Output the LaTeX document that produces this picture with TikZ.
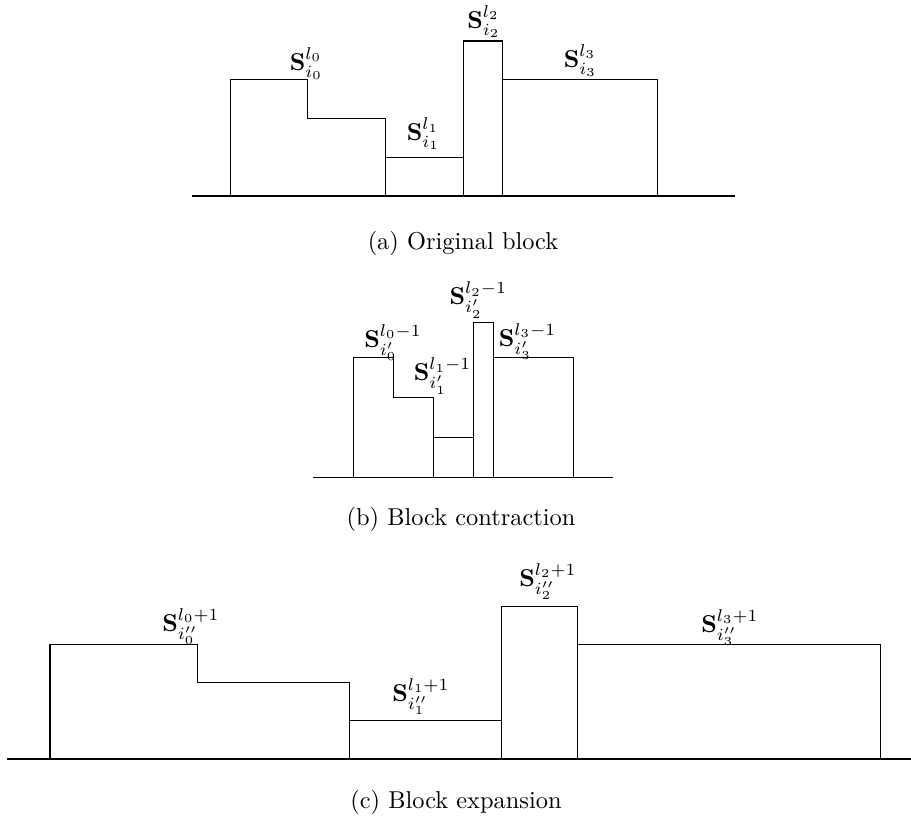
\documentclass[tikz,border=0pt]{standalone}
\usepackage{amsmath}
\begin{document}
\begin{tikzpicture}[x=0.41pt,y=-0.41pt,
  edge/.style={line width=0.42pt,line join=miter},
  lbl/.style={inner sep=0pt,anchor=center},
  captxt/.style={inner sep=0pt,anchor=center}]
\useasboundingbox (0,0) rectangle (911,823);
% ---------- (a) ----------
\draw[edge] (191.7,196) -- (735.3,196);
\draw[edge] (230.3,196) -- (230.3,79.7) -- (307.3,79.7) -- (307.3,118.3) -- (385.7,118.3) -- (385.7,196);
\draw[edge] (385.7,157.3) -- (463.3,157.3);
\draw[edge] (463.3,196) -- (463.3,41) -- (502.3,41) -- (502.3,196);
\draw[edge] (502.3,79.7) -- (657.3,79.7) -- (657.3,196);
\node[lbl] (a0) at (306.5,63.5) {$\mathbf{S}^{l_0}_{i_0}$};
\node[lbl] (a1) at (423.5,134) {$\mathbf{S}^{l_1}_{i_1}$};
\node[lbl] (a2) at (484,21.5) {$\mathbf{S}^{l_2}_{i_2}$};
\node[lbl] (a3) at (580.5,60.5) {$\mathbf{S}^{l_3}_{i_3}$};
\node[captxt] (capa) at (463,243) {(a) Original block};
% ---------- (b) ----------
\draw[edge] (313.3,477.3) -- (613.3,477.3);
\draw[edge] (353.3,477.3) -- (353.3,357.3) -- (393.3,357.3) -- (393.3,397.3) -- (433.3,397.3) -- (433.3,477.3);
\draw[edge] (433.3,437.3) -- (473.3,437.3);
\draw[edge] (473.3,477.3) -- (473.3,322.3) -- (493.3,322.3) -- (493.3,477.3);
\draw[edge] (493.3,357.3) -- (573.3,357.3) -- (573.3,477.3);
\node[lbl] (b0) at (393,342.5) {$\mathbf{S}^{l_0-1}_{i'_0}$};
\node[lbl] (b1) at (442.5,376) {$\mathbf{S}^{l_1-1}_{i'_1}$};
\node[lbl] (b2) at (478.3,300) {$\mathbf{S}^{l_2-1}_{i'_2}$};
\node[lbl] (b3) at (527.5,341.7) {$\mathbf{S}^{l_3-1}_{i'_3}$};
\node[captxt] (capb) at (461,519) {(b) Block contraction};
% ---------- (c) ----------
\draw[edge] (7.3,759) -- (911,759);
\draw[edge] (50,759) -- (50,644.7) -- (197.8,644.7) -- (197.8,682.7) -- (349.6,682.7) -- (349.6,759);
\draw[edge] (349.6,720.7) -- (501.5,720.7);
\draw[edge] (501.5,759) -- (501.5,606.7) -- (577.7,606.7) -- (577.7,759);
\draw[edge] (577.7,644.7) -- (880.7,644.7) -- (880.7,759);
\node[lbl] (c0) at (191,626.7) {$\mathbf{S}^{l_0+1}_{i''_0}$};
\node[lbl] (c1) at (421,696.7) {$\mathbf{S}^{l_1+1}_{i''_1}$};
\node[lbl] (c2) at (548,581.7) {$\mathbf{S}^{l_2+1}_{i''_2}$};
\node[lbl] (c3) at (730,627.5) {$\mathbf{S}^{l_3+1}_{i''_3}$};
\node[captxt] (capc) at (456,802) {(c) Block expansion};
\end{tikzpicture}
\end{document}
